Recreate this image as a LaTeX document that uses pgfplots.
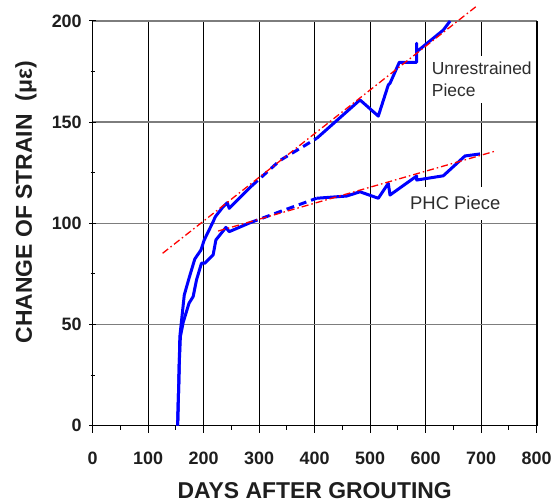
\documentclass[border=0pt]{standalone}
\usepackage{fontspec}
\setmainfont{Liberation Sans}
\usepackage{pgfplots}
\pgfplotsset{compat=1.18}
\definecolor{gridgray}{RGB}{125,125,125}
\definecolor{txt}{RGB}{30,30,30}
\definecolor{note}{RGB}{45,45,45}
\begin{document}
\begin{tikzpicture}
\path[use as bounding box] (-92.7bp,-78.3bp) rectangle (460.3bp,425.7bp);
\begin{axis}[
  at={(0,0)}, anchor=south west,
  scale only axis, width=444bp, height=404.7bp,
  xmin=0, xmax=800, ymin=0, ymax=200,
  xtick={0,100,...,800}, ytick={0,50,...,200},
  minor xtick={50,150,...,750}, minor ytick={25,75,...,175},
  axis x line*=bottom, axis y line*=left,
  axis line style={black, line width=1.3bp, -},
  grid=major,
  major x grid style={black, line width=1bp},
  major y grid style={gridgray, line width=1.5bp},
  xtick align=outside, ytick align=center,
  major tick length=7bp, minor tick length=4bp,
  tick style={black, line width=1bp},
  /pgf/number format/assume math mode=true,
  ticklabel style={font=\fontsize{18}{18}\selectfont\bfseries, text=txt},
  x tick label style={yshift=-15.5bp},
  y tick label style={xshift=-4bp},
  xlabel={DAYS AFTER GROUTING},
  ylabel={CHANGE OF STRAIN\ \ (με)},
  label style={font=\fontsize{23}{23}\selectfont\bfseries, text=txt},
  xlabel style={at={(axis description cs:0.5,0)}, anchor=center, yshift=-65bp},
  ylabel style={at={(axis description cs:-0.1502,0.552)}, anchor=center},
  clip=false,
]
% Unrestrained piece: measured segments and gap (dashed)
\addplot[blue, line width=3bp, line join=round] coordinates {
  (153,0) (155,20) (156,31) (157,44) (165,64.6) (173.5,72.8) (184,82.4)
  (195,86.8) (201,91.8) (217,100.8) (221,103.3) (235,108.2) (242.5,110.2)
  (246,107.4) (286.5,118.5)};
\addplot[blue, line width=3bp, dash pattern=on 8bp off 5bp] coordinates {
  (286.5,118.5) (337,131) (403.6,142)};
\addplot[blue, line width=3bp, line join=round] coordinates {
  (403.6,142) (481.6,161) (514.6,153) (532.6,168.4) (535.7,169.2)
  (552.5,179.6) (583.8,179.6) (583.8,189) (583.8,184.8) (631.7,195.5) (644,200)};
% PHC piece
\addplot[blue, line width=3bp, line join=round] coordinates {
  (153,0) (155,20) (156,31) (158,44) (163,51) (173.5,60.5) (181,63.8)
  (187,72) (196,80.3) (202,80.3) (217,84.4) (222,91.8) (229,94.2)
  (240,98) (246,95.9) (283.5,100.3)};
\addplot[blue, line width=3bp, dash pattern=on 8bp off 5bp] coordinates {
  (283.5,100.3) (337.5,105.8) (403.6,112.4)};
\addplot[blue, line width=3bp, line join=round] coordinates {
  (403.6,112.4) (457.7,113.5) (481.6,115.6) (514.6,112.4) (532.6,119.8)
  (535.7,114) (583.8,123.4) (583.8,121.4) (631.7,123.5) (670.8,133.3) (697.8,134.3)};
% Linear trend lines
\addplot[red, line width=1.3bp, dash pattern=on 7bp off 3bp on 1.5bp off 3bp]
  coordinates {(126,85.2) (692,207.4)};
\addplot[red, line width=1.3bp, dash pattern=on 7bp off 3bp on 1.5bp off 3bp]
  coordinates {(226,96.2) (728,135.9)};
% Series labels
\node[anchor=west, align=left, fill=white, inner xsep=4bp, inner ysep=6bp,
      font=\fontsize{17.5}{22.4}\selectfont, text=note]
  at (axis cs:603.6,171.1) {Unrestrained\\Piece};
\node[anchor=west, fill=white, inner xsep=4bp, inner ysep=10bp,
      font=\fontsize{18.5}{22}\selectfont, text=note]
  at (axis cs:564.5,109.9) {PHC Piece};
% Right frame edge
\draw[black, line width=2bp] (axis cs:800,0) -- (axis cs:800,200);
\end{axis}
\end{tikzpicture}
\end{document}
